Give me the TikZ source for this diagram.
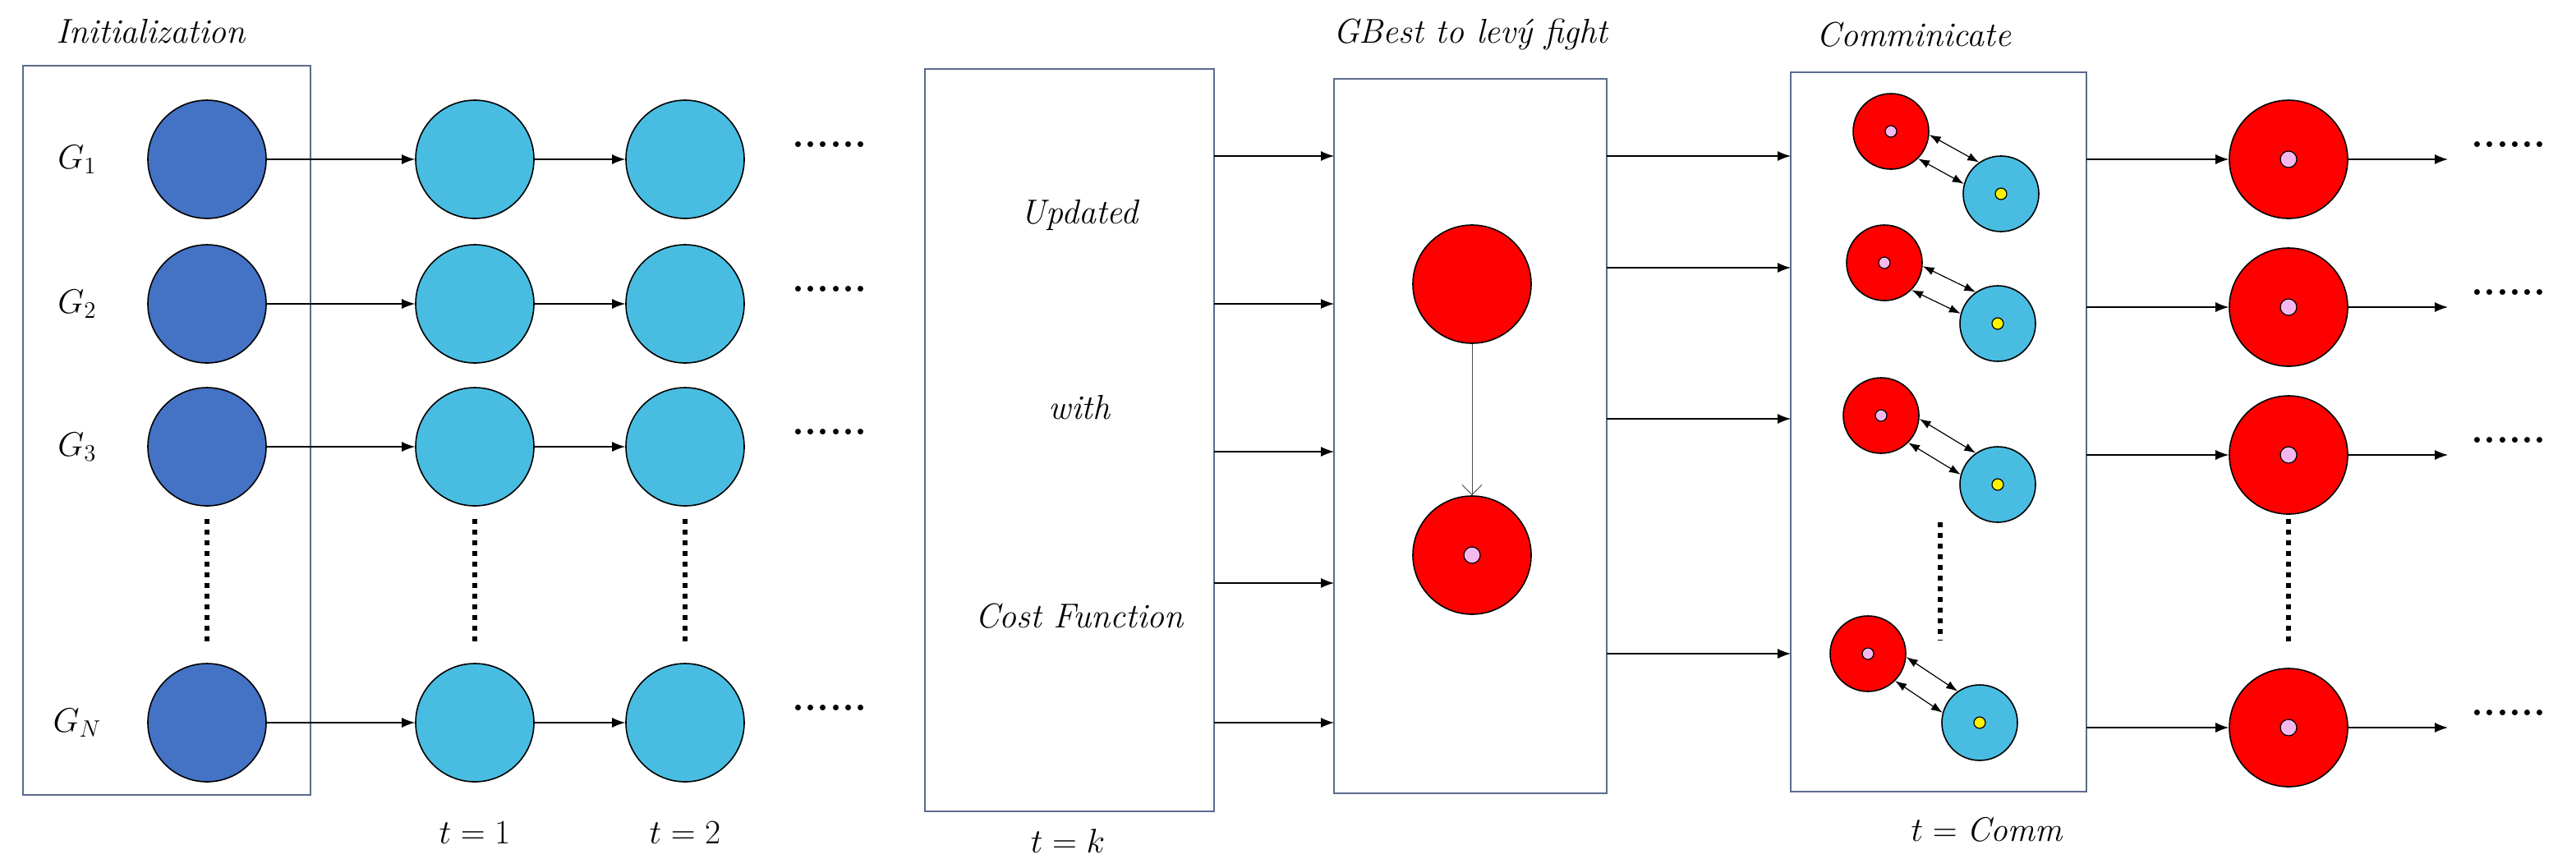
\documentclass[tikz,border=0pt]{standalone}
\usetikzlibrary{arrows.meta}
\definecolor{dkb}{HTML}{4472C4}
\definecolor{ltb}{HTML}{48BDE1}
\definecolor{bxc}{HTML}{5B6B8E}
\definecolor{pkc}{HTML}{F4B8EE}
\begin{document}
\begin{tikzpicture}[x=1pt,y=-1pt,
  lbl/.style={font=\fontsize{21}{24}\selectfont\itshape},
  mth/.style={font=\fontsize{21}{24}\selectfont},
  box/.style={draw=bxc,line width=1.3pt,inner sep=0},
  dk/.style={circle,draw,line width=0.8pt,fill=dkb,minimum size=72pt,inner sep=0},
  lt/.style={circle,draw,line width=0.8pt,fill=ltb,minimum size=72pt,inner sep=0},
  rd/.style={circle,draw,line width=0.8pt,fill=red,minimum size=72pt,inner sep=0},
  srd/.style={circle,draw,line width=0.8pt,fill=red,minimum size=46pt,inner sep=0},
  sbl/.style={circle,draw,line width=0.8pt,fill=ltb,minimum size=46pt,inner sep=0},
  pk/.style={circle,draw,line width=0.6pt,fill=pkc,minimum size=10pt,inner sep=0},
  yl/.style={circle,draw,line width=0.6pt,fill=yellow,minimum size=9pt,inner sep=0},
  ar/.style={-{Latex[length=8pt,width=6pt]},line width=0.6pt},
  dar/.style={{Latex[length=7pt,width=5pt]}-{Latex[length=7pt,width=5pt]},line width=0.6pt},
  vd/.style={line width=3.2pt,dash pattern=on 3pt off 3.5pt},
  hd/.style={font=\fontsize{24}{26}\selectfont\bfseries}]
\useasboundingbox[fill=white] (0,0) rectangle (1568,528);
\node[box,minimum width=175pt,minimum height=444pt] (b1) at (101.5,262) {};
\node[box,minimum width=176pt,minimum height=452pt] (b2) at (651,268) {};
\node[box,minimum width=166pt,minimum height=435pt] (b3) at (895,265.5) {};
\node[box,minimum width=180pt,minimum height=438pt] (b4) at (1180,263) {};
\node[lbl] (tinit) at (92,19) {Initialization};
\node[lbl] (tg) at (895,21) {GBest to lev\'y fight};
\node[lbl] (tc) at (1165,21) {Comminicate};
\node[lbl] (u1) at (657,131) {Updated};
\node[lbl] (u2) at (657,248) {with};
\node[lbl] (u3) at (657,375) {Cost Function};
\foreach \y/\n/\s in {97/1/1,185/2/2,272/3/3,440/4/N}{
  \node[mth] (g\n) at (47,\y) {$G_{\s}$};
  \node[dk] (d\n) at (126,\y) {};
  \node[lt] (a\n) at (289,\y) {};
  \node[lt] (b\n) at (417,\y) {};
  \node[hd] (e\n) at (505,\y-9) {......};
  \draw[ar] (d\n) -- (a\n);
  \draw[ar] (a\n) -- (b\n);
}
\foreach \x/\n in {126/d,289/a,417/b,1393/r}{
  \coordinate (\n top) at (\x,316); \coordinate (\n bot) at (\x,394);
  \draw[vd] (\n top) -- (\n bot);
}
\node[mth] (t1) at (289,507) {$t=1$};
\node[mth] (t2) at (417,507) {$t=2$};
\node[mth] (tk) at (650,512) {$t=k$};
\node[mth] (tcm) at (1210,505) {$t=\mathit{Comm}$};
\foreach \y [count=\i] in {95,185,275,355,440}{
  \coordinate (l\i) at (739,\y); \coordinate (m\i) at (812,\y);
  \draw[ar] (l\i) -- (m\i);
}
\node[rd] (g1r) at (896,173) {};
\node[rd] (g2r) at (896,338) {};
\node[pk] (g2p) at (896,338) {};
\draw[-{Straight Barb[length=6pt]},line width=0.5pt,gray!60!black] (g1r) -- (g2r);
\foreach \y [count=\i] in {95,163,255,398}{
  \coordinate (n\i) at (978,\y); \coordinate (o\i) at (1090,\y);
  \draw[ar] (n\i) -- (o\i);
}
\foreach \rx/\ry/\bx/\by [count=\i] in {1151/80/1218/118,1147/160/1216/197,1145/253/1216/295,1137/398/1205/440}{
  \node[srd] (sr\i) at (\rx,\ry) {};
  \node[pk,minimum size=7pt] (sp\i) at (\rx,\ry) {};
  \node[sbl] (sb\i) at (\bx,\by) {};
  \node[yl,minimum size=7pt] (sy\i) at (\bx,\by) {};
  \draw[dar] (sr\i.-5) -- (sb\i.125);
  \draw[dar] (sr\i.-45) -- (sb\i.165);
}
\coordinate (ctop) at (1181,318); \coordinate (cbot) at (1181,390);
\draw[vd] (ctop) -- (cbot);
\foreach \y [count=\i] in {97,187,277,443}{
  \node[rd] (R\i) at (1393,\y) {};
  \node[pk] (P\i) at (1393,\y) {};
  \coordinate (p\i) at (1270,\y);
  \draw[ar] (p\i) -- (R\i);
  \coordinate (q\i) at (1490,\y);
  \draw[ar] (R\i) -- (q\i);
  \node[hd] (f\i) at (1527,\y-9) {......};
}
\end{tikzpicture}
\end{document}
